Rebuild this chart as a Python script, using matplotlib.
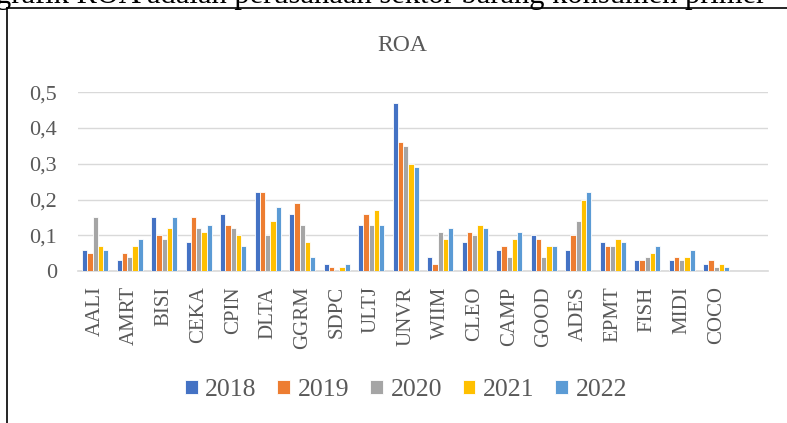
import numpy as np
import matplotlib.pyplot as plt
from matplotlib.lines import Line2D

plt.rcParams['font.family'] = ['Liberation Serif', 'DejaVu Serif']

# companies (last slot of the category axis is empty in the original)
tickers = ['AALI', 'AMRT', 'BISI', 'CEKA', 'CPIN', 'DLTA', 'GGRM', 'SDPC', 'ULTJ', 'UNVR',
           'WIIM', 'CLEO', 'CAMP', 'GOOD', 'ADES', 'EPMT', 'FISH', 'MIDI', 'COCO', '']

years = ['2018', '2019', '2020', '2021', '2022']

roa_2018 = [0.06, 0.03, 0.15, 0.08, 0.16, 0.22, 0.16, 0.02, 0.13, 0.47,
            0.04, 0.08, 0.06, 0.10, 0.06, 0.08, 0.03, 0.03, 0.02, np.nan]
roa_2019 = [0.05, 0.05, 0.10, 0.15, 0.13, 0.22, 0.19, 0.01, 0.16, 0.36,
            0.02, 0.11, 0.07, 0.09, 0.10, 0.07, 0.03, 0.04, 0.03, np.nan]
roa_2020 = [0.15, 0.04, 0.09, 0.12, 0.12, 0.10, 0.13, 0.00, 0.13, 0.35,
            0.11, 0.10, 0.04, 0.04, 0.14, 0.07, 0.04, 0.03, 0.01, np.nan]
roa_2021 = [0.07, 0.07, 0.12, 0.11, 0.10, 0.14, 0.08, 0.01, 0.17, 0.30,
            0.09, 0.13, 0.09, 0.07, 0.20, 0.09, 0.05, 0.04, 0.02, np.nan]
roa_2022 = [0.06, 0.09, 0.15, 0.13, 0.07, 0.18, 0.04, 0.02, 0.13, 0.29,
            0.12, 0.12, 0.11, 0.07, 0.22, 0.08, 0.07, 0.06, 0.01, np.nan]

series = [roa_2018, roa_2019, roa_2020, roa_2021, roa_2022]
colors = ['#4472C4', '#ED7D31', '#A5A5A5', '#FFC000', '#5B9BD5']

W, H = 787, 423
fig = plt.figure(figsize=(W / 100, H / 100), dpi=100)
ax = fig.add_axes([78 / W, 1 - 271 / H, (768 - 78) / W, (271 - 92.3) / H])

x = np.arange(len(tickers))
bw = 0.15
for i, (vals, c, yr) in enumerate(zip(series, colors, years)):
    ax.bar(x + (i - 2) * bw, vals, width=bw, color=c, edgecolor='white',
           linewidth=0.6, label=yr, zorder=3)

ax.set_xlim(-0.5, len(tickers) - 0.5)
ax.set_ylim(0, 0.5)
ax.set_yticks([0, 0.1, 0.2, 0.3, 0.4, 0.5])
ax.set_yticklabels(['0', '0,1', '0,2', '0,3', '0,4', '0,5'])
ax.set_xticks(x)
ax.set_xticklabels(tickers, rotation=90)
ax.tick_params(axis='y', length=0, pad=15, labelsize=16, labelcolor='#595959')
ax.tick_params(axis='x', length=0, pad=11, labelsize=15, labelcolor='#595959')
ax.grid(axis='y', color='#d9d9d9', linewidth=1.0, zorder=0)
for s in ['top', 'right', 'left']:
    ax.spines[s].set_visible(False)
ax.spines['bottom'].set_color('#d9d9d9')
ax.spines['bottom'].set_linewidth(1.2)

fig.text(402 / W, 1 - 45.5 / H, 'ROA', ha='center', va='center',
         fontsize=17, color='#595959')

fig.legend(loc='center', bbox_to_anchor=(406 / W, 1 - 390 / H), ncol=5,
           frameon=False, fontsize=18.5, labelcolor='#595959',
           handlelength=0.5, handleheight=0.5, handletextpad=0.3,
           columnspacing=0.8)

# border of the chart box and clipped document text above it
fig.add_artist(Line2D([7 / W, 7 / W], [0, 1 - 8 / H], color='black', linewidth=1.2))
fig.add_artist(Line2D([7 / W, 1], [1 - 8 / H, 1 - 8 / H], color='black', linewidth=1.2))
fig.text(-4 / W, 1 - 3 / H, 'grafik ROA adalah perusahaan sektor barang konsumen primer',
         ha='left', va='baseline', fontsize=22, color='black')

fig.savefig('out.png', dpi=100)
